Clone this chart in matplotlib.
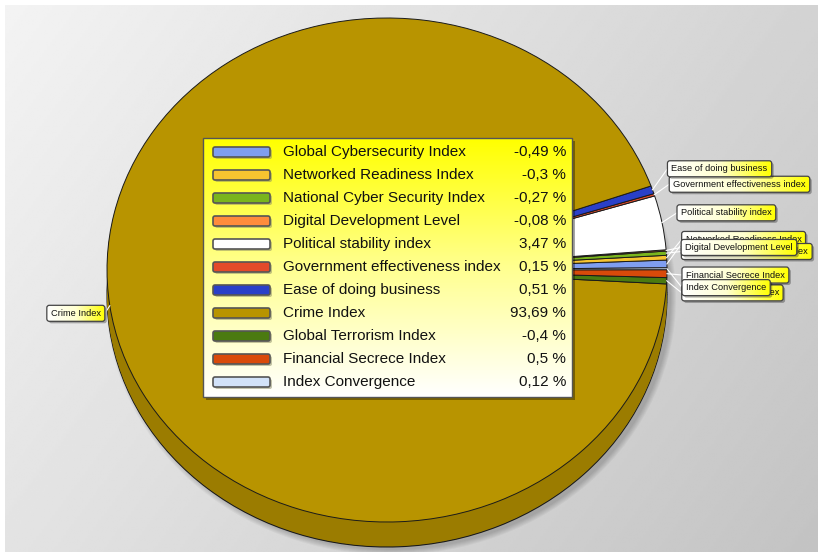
import numpy as np
import matplotlib
matplotlib.use("Agg")
import matplotlib.pyplot as plt
from matplotlib.patches import FancyBboxPatch, Ellipse
from matplotlib.colors import LinearSegmentedColormap, to_rgb

plt.rcParams["font.family"] = ["Liberation Sans", "DejaVu Sans"]

# --- data ---------------------------------------------------------------
names = [
    "Global Cybersecurity Index", "Networked Readiness Index",
    "National Cyber Security Index", "Digital Development Level",
    "Political stability index", "Government effectiveness index",
    "Ease of doing business", "Crime Index", "Global Terrorism Index",
    "Financial Secrece Index", "Index Convergence",
]
shares = [-0.49, -0.3, -0.27, -0.08, 3.47, 0.15, 0.51, 93.69, -0.4, 0.5, 0.12]
colors = [
    "#7f9ef0", "#f7c430", "#7ab51d", "#ff8c3c", "#ffffff", "#e34a2a",
    "#2a40c8", "#b89400", "#4b7a10", "#d94a0a", "#d2e2f8",
]

# --- layout (pixels) ----------------------------------------------------
W, H = 818, 552
CX, CY = 387, 270          # centre of the pie top
RX, RY = 280, 252          # half axes of the top ellipse
DEPTH = 25                 # thickness of the pie
START = 0.5
label_dy = [-20, -17, 0, -1, -5, -3, -13, 4, 11, 1, 19]


def shade(c, f):
    r, g, b = to_rgb(c)
    return (r * f, g * f, b * f)


def px(x, y):
    return CX + RX * x, CY - RY * y


fig = plt.figure(figsize=(W / 100, H / 100), dpi=100, facecolor="white")

# background gradient
bg = fig.add_axes([0, 0, 1, 1])
bg.set_axis_off()
xx, yy = np.meshgrid(np.linspace(0, 1, 300), np.linspace(0, 1, 300))
bg.imshow((243 - 32 * xx - 16 * yy) / 255, cmap="gray", vmin=0, vmax=1,
          extent=(5, W, H, 5), aspect="auto", interpolation="bilinear")
bg.set_xlim(0, W)
bg.set_ylim(H, 0)

# pie
ax = fig.add_axes([0, 0, 1, 1])
ax.set_axis_off()
ax.patch.set_alpha(0)

# soft drop shadow under the pie
for k in range(6):
    ax.add_patch(Ellipse((4 / RX, -(DEPTH + 3) / RY), 2 + (2 * k) / RX,
                         2 + (2 * k) / RY, fc="black", alpha=0.035, lw=0))

sizes = np.abs(shares)
side = [shade(c, 0.84) for c in colors]
ax.pie(sizes, colors=side, startangle=START, center=(0, -DEPTH / RY),
       wedgeprops=dict(edgecolor="#1a1a1a", linewidth=0.8))
for dz in np.linspace(DEPTH - 1, 1, 12):
    ax.pie(sizes, colors=side, startangle=START, center=(0, -dz / RY),
           wedgeprops=dict(linewidth=0))
wedges, _ = ax.pie(sizes, colors=colors, startangle=START,
                   wedgeprops=dict(edgecolor="#1a1a1a", linewidth=0.7))
ax.set_aspect("auto")
ax.set_xlim(-CX / RX, (W - CX) / RX)
ax.set_ylim(-(H - CY) / RY, CY / RY)

# overlay in pixel coordinates for legend and callouts
ov = fig.add_axes([0, 0, 1, 1])
ov.set_axis_off()
ov.patch.set_alpha(0)

# legend box
LX0, LY0, LX1, LY1 = 203, 138, 572, 397
ov.add_patch(FancyBboxPatch((LX0 + 3, LY0 + 3), LX1 - LX0, LY1 - LY0,
                            boxstyle="square,pad=0", fc="#000000", alpha=0.35,
                            lw=0, zorder=2))
lbox = FancyBboxPatch((LX0, LY0), LX1 - LX0, LY1 - LY0, boxstyle="square,pad=0",
                      fc="none", ec="#555555", lw=1.0, zorder=4)
ov.add_patch(lbox)
lg = LinearSegmentedColormap.from_list("lg", ["#ffff00", "#ffff90", "#ffffff"])
im = ov.imshow(np.linspace(0, 1, 200)[:, None], cmap=lg, aspect="auto",
               extent=(LX0, LX1, LY1, LY0), zorder=3)
im.set_clip_path(lbox)

ROW0, ROWH = 152, 23.0
for i, (n, v, c) in enumerate(zip(names, shares, colors)):
    y = ROW0 + i * ROWH
    ov.add_patch(FancyBboxPatch((215, y - 3), 57, 10,
                                boxstyle="round,pad=0,rounding_size=2",
                                fc="#888866", alpha=0.5, lw=0, zorder=5))
    ov.add_patch(FancyBboxPatch((213, y - 5), 57, 10,
                                boxstyle="round,pad=0,rounding_size=2",
                                fc=c, ec="#555555", lw=1.2, zorder=6))
    ov.text(283, y, n, fontsize=11, va="center", ha="left", color="#111111",
            zorder=7)
    val = f"{v:g}".replace(".", ",") + " %"
    ov.text(566, y, val, fontsize=11, va="center", ha="right",
            color="#111111", zorder=7)

# callout labels
cg = LinearSegmentedColormap.from_list("cg", ["#ffffff", "#ffffd0", "#ffff00"])
renderer = fig.canvas.get_renderer()
for i, w in enumerate(wedges):
    mid = np.deg2rad((w.theta1 + w.theta2) / 2)
    ax_, ay_ = px(np.cos(mid), np.sin(mid))
    ly = CY - 1.1 * RY * np.sin(mid) + label_dy[i]
    right = np.cos(mid) > 0
    z = 10 + 4 * i
    if right:
        bx0 = ax_ + 15
        t = ov.text(bx0 + 4, ly, names[i], fontsize=6.7, va="center",
                    ha="left", color="#111111", zorder=z + 3)
    else:
        bx1 = ax_ - 5
        t = ov.text(bx1 - 4, ly, names[i], fontsize=6.7, va="center",
                    ha="right", color="#111111", zorder=z + 3)
    ov.set_xlim(0, W)
    ov.set_ylim(H, 0)
    tw = t.get_window_extent(renderer).width
    if right:
        bx1 = bx0 + tw + 8
        ov.plot([ax_, bx0], [ay_, ly], color="white", lw=0.8, zorder=9)
    else:
        bx0 = bx1 - tw - 8
        ov.plot([ax_, bx1], [ay_, ly], color="white", lw=0.8, zorder=9)
    by0, by1 = ly - 8, ly + 8
    ov.add_patch(FancyBboxPatch((bx0 + 2, by0 + 2), bx1 - bx0, by1 - by0,
                                boxstyle="round,pad=0,rounding_size=2.5",
                                fc="#000000", alpha=0.3, lw=0, zorder=z))
    cb = FancyBboxPatch((bx0, by0), bx1 - bx0, by1 - by0,
                        boxstyle="round,pad=0,rounding_size=2.5",
                        fc="none", ec="#444444", lw=0.9, zorder=z + 2)
    ov.add_patch(cb)
    ci = ov.imshow(np.linspace(0, 1, 100)[None, :], cmap=cg, aspect="auto",
                   extent=(bx0, bx1, by1, by0), zorder=z + 1)
    ci.set_clip_path(cb)

ov.set_xlim(0, W)
ov.set_ylim(H, 0)

fig.savefig("out.png", dpi=100)
